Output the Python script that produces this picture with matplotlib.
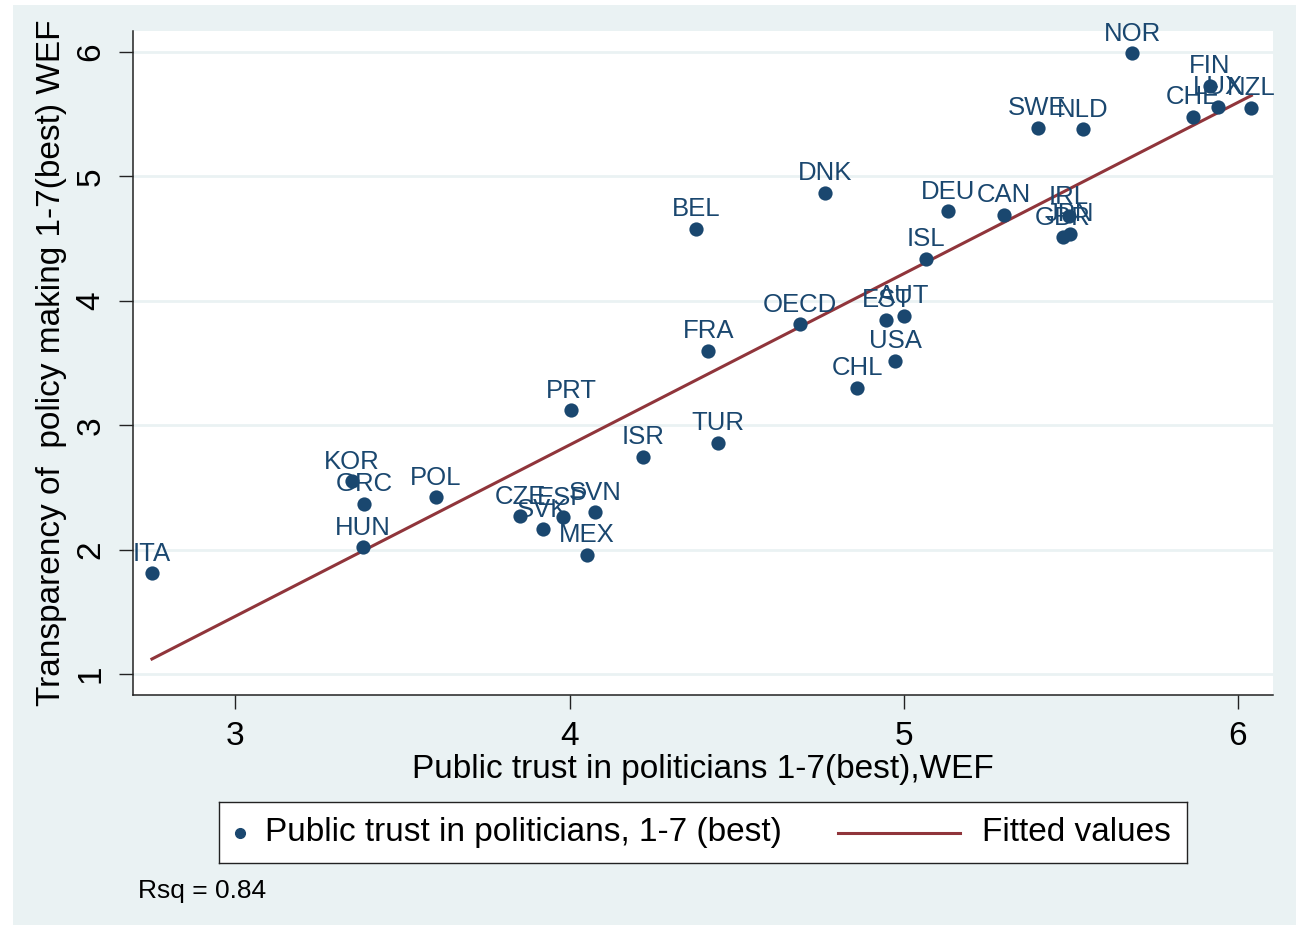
import numpy as np
import matplotlib
matplotlib.use("Agg")
import matplotlib.pyplot as plt
from matplotlib.patches import Rectangle
from matplotlib.lines import Line2D

plt.rcParams['font.family'] = ['Liberation Sans', 'DejaVu Sans']

countries = ["NOR", "FIN", "LUX", "NZL", "CHE", "SWE", "NLD", "DNK", "BEL", "DEU",
             "CAN", "IRL", "GBR", "JPN", "ISL", "OECD", "EST", "AUT", "USA", "CHL",
             "FRA", "PRT", "TUR", "ISR", "KOR", "GRC", "POL", "HUN", "ITA", "CZE",
             "SVK", "ESP", "SVN", "MEX"]
trust = [5.684, 5.915, 5.940, 6.040, 5.864, 5.400, 5.535, 4.765, 4.379, 5.133,
         5.300, 5.493, 5.475, 5.496, 5.065, 4.690, 4.948, 5.000, 4.975, 4.860,
         4.415, 4.004, 4.445, 4.220, 3.349, 3.385, 3.600, 3.382, 2.750, 3.852,
         3.920, 3.980, 4.076, 4.052]
transparency = [5.99, 5.73, 5.56, 5.55, 5.48, 5.39, 5.38, 4.87, 4.58, 4.72,
                4.69, 4.68, 4.51, 4.54, 4.34, 3.81, 3.846, 3.88, 3.52, 3.30,
                3.60, 3.12, 2.857, 2.745, 2.55, 2.37, 2.42, 2.02, 1.81, 2.27,
                2.165, 2.26, 2.30, 1.96]
x_ticks = [3, 4, 5, 6]
y_ticks = [1, 2, 3, 4, 5, 6]
rsq_text = "Rsq = 0.84"

NAVY = "#1a476f"
MAROON = "#90353b"
BG = "#eaf2f3"

x = np.array(trust)
y = np.array(transparency)
slope, intercept = np.polyfit(x, y, 1)
xf = np.sort(x)
yf = slope * xf + intercept

fig = plt.figure(figsize=(12.96, 9.30), dpi=100)
fig.patch.set_facecolor("white")
fig.patches.append(Rectangle((13 / 1296, 5 / 930), 1 - 13 / 1296, 1 - 10 / 930,
                             transform=fig.transFigure, facecolor=BG,
                             edgecolor="none", zorder=-10))

ax = fig.add_axes([133 / 1296, 1 - 695 / 930, (1273 - 133) / 1296, (695 - 31) / 930])
ax.set_facecolor("white")
ax.set_xlim(2.6933, 6.1047)
ax.set_ylim(0.831, 6.169)

for s in ["top", "right"]:
    ax.spines[s].set_visible(False)
for s in ["left", "bottom"]:
    ax.spines[s].set_color("#222222")
    ax.spines[s].set_linewidth(1.1)

ax.set_xticks(x_ticks)
ax.set_yticks(y_ticks)
ax.tick_params(axis="both", direction="out", length=10, width=1.0, color="#222222",
               labelsize=24, labelcolor="black")
ax.tick_params(axis="x", pad=9)
ax.tick_params(axis="y", pad=9)
for lab in ax.get_yticklabels():
    lab.set_rotation(90)
    lab.set_va("center")

ax.yaxis.grid(True, color=BG, linewidth=2.0)
ax.xaxis.grid(False)
ax.set_axisbelow(True)

ax.scatter(x, y, s=105, color=NAVY, zorder=3, linewidths=0)
ax.plot(xf, yf, color=MAROON, linewidth=2.2, zorder=2)

for c, xi, yi in zip(countries, x, y):
    ax.annotate(c, (xi, yi), xytext=(0, 9), textcoords="offset points",
                ha="center", va="baseline", fontsize=18.5, color=NAVY, zorder=4)

ax.set_xlabel("Public trust in politicians 1-7(best),WEF", fontsize=24, labelpad=1)
ax.set_ylabel("Transparency of  policy making 1-7(best) WEF", fontsize=24, labelpad=6)

# legend box
lax = fig.add_axes([219 / 1296, 1 - 863 / 930, (1187 - 219) / 1296, (863 - 802) / 930])
lax.set_xlim(0, 968)
lax.set_ylim(0, 61)
lax.set_xticks([])
lax.set_yticks([])
lax.set_facecolor("white")
for s in lax.spines.values():
    s.set_color("#222222")
    s.set_linewidth(1.0)
lax.add_line(Line2D([21], [30.5], marker="o", markersize=7, color=NAVY, linestyle="none"))
lax.text(46, 30.5, "Public trust in politicians, 1-7 (best)", fontsize=24, va="center", ha="left")
lax.add_line(Line2D([619, 741], [30.5, 30.5], color=MAROON, linewidth=2.2))
lax.text(763, 30.5, "Fitted values", fontsize=24, va="center", ha="left")

fig.text(138 / 1296, 1 - 891 / 930, rsq_text, fontsize=19, va="center", ha="left")

fig.savefig("out.png", dpi=100, facecolor=fig.get_facecolor())
